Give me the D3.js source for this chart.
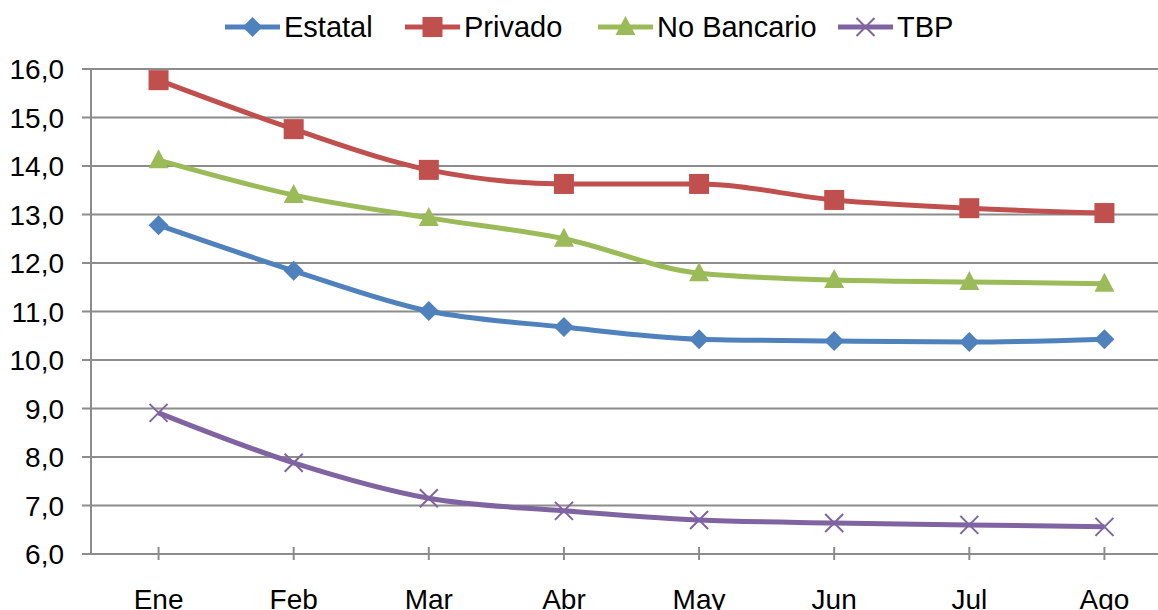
<!DOCTYPE html>
<html>
<head>
<meta charset="utf-8">
<script src="https://cdn.jsdelivr.net/npm/d3@7"></script>
<style>
  body { margin: 0; background: #fff; }
  text { font-family: "Liberation Sans", Arial, sans-serif; fill: #000; }
</style>
</head>
<body>
<svg id="canvas"></svg>
<script>
const months = ["Ene", "Feb", "Mar", "Abr", "May", "Jun", "Jul", "Ago"];
const estatal = [12.78, 11.84, 11.01, 10.68, 10.43, 10.39, 10.37, 10.43];
const privado = [15.77, 14.76, 13.92, 13.63, 13.63, 13.30, 13.13, 13.03];
const noBancario = [14.12, 13.40, 12.93, 12.50, 11.79, 11.65, 11.61, 11.57];
const tbp = [8.91, 7.88, 7.15, 6.89, 6.70, 6.64, 6.60, 6.56];
const yTicks = [6, 7, 8, 9, 10, 11, 12, 13, 14, 15, 16];

const series = [
    { name: "Estatal", values: estatal, color: "#4F81BD", marker: "diamond" },
    { name: "Privado", values: privado, color: "#C0504D", marker: "square" },
    { name: "No Bancario", values: noBancario, color: "#9BBB59", marker: "triangle" },
    { name: "TBP", values: tbp, color: "#8064A2", marker: "x" }
];

const width = 1158;
const height = 610;
const margin = { top: 69, right: 0, bottom: 56, left: 91 };
const plotRight = 1172; // plot area runs past the picture edge

const svg = d3.select("#canvas")
    .attr("width", width)
    .attr("height", height);

const x = d3.scaleBand()
    .domain(months)
    .range([margin.left, plotRight]);

const y = d3.scaleLinear()
    .domain([6, 16])
    .range([height - margin.bottom, margin.top]);

// gridlines
svg.append("g")
    .selectAll("line")
    .data(yTicks)
    .enter()
    .append("line")
    .attr("x1", margin.left - 9)
    .attr("x2", width)
    .attr("y1", d => y(d))
    .attr("y2", d => y(d))
    .attr("stroke", "#8c8c8c")
    .attr("stroke-width", 2);

// y axis line
svg.append("line")
    .attr("x1", margin.left).attr("x2", margin.left)
    .attr("y1", y(16)).attr("y2", y(6))
    .attr("stroke", "#8c8c8c")
    .attr("stroke-width", 2);

// y labels
svg.append("g")
    .selectAll("text")
    .data(yTicks)
    .enter()
    .append("text")
    .attr("x", 64)
    .attr("y", d => y(d))
    .attr("dy", "0.36em")
    .attr("text-anchor", "end")
    .style("font-size", "28px")
    .text(d => d3.format(".1f")(d).replace(".", ","));

// x ticks (cross the axis)
svg.append("g")
    .selectAll("line")
    .data(months)
    .enter()
    .append("line")
    .attr("x1", d => x(d) + x.bandwidth() / 2)
    .attr("x2", d => x(d) + x.bandwidth() / 2)
    .attr("y1", y(6) - 7)
    .attr("y2", y(6) + 6)
    .attr("stroke", "#8c8c8c")
    .attr("stroke-width", 2);

svg.append("g")
    .selectAll("text")
    .data(months)
    .enter()
    .append("text")
    .attr("x", d => x(d) + x.bandwidth() / 2)
    .attr("y", 609)
    .attr("text-anchor", "middle")
    .style("font-size", "28px")
    .text(d => d);

const line = d3.line()
    .x((d, i) => x(months[i]) + x.bandwidth() / 2)
    .y(d => y(d))
    .curve(d3.curveMonotoneX);

function drawMarker(sel, type, color) {
    if (type === "diamond") {
        sel.append("path").attr("d", "M0,-10L10,0L0,10L-10,0Z").attr("fill", color);
    } else if (type === "square") {
        sel.append("rect").attr("x", -10).attr("y", -10).attr("width", 20).attr("height", 20)
            .attr("fill", color);
    } else if (type === "triangle") {
        sel.append("path").attr("d", "M0,-11L10,8L-10,8Z").attr("fill", color);
    } else {
        sel.append("path").attr("d", "M-9,-9L9,9M-9,9L9,-9")
            .attr("stroke", color).attr("stroke-width", 2).attr("fill", "none");
    }
}

series.forEach(s => {
    svg.append("path")
        .datum(s.values)
        .attr("d", line)
        .attr("fill", "none")
        .attr("stroke", s.color)
        .attr("stroke-width", 5)
        .attr("stroke-linejoin", "round");

    svg.append("g")
        .selectAll("g")
        .data(s.values)
        .enter()
        .append("g")
        .attr("transform", (d, i) => `translate(${x(months[i]) + x.bandwidth() / 2},${y(d)})`)
        .each(function () { drawMarker(d3.select(this), s.marker, s.color); });
});

// legend
const legendX = [225, 405, 598, 838];
const legend = svg.append("g");
series.forEach((s, i) => {
    const g = legend.append("g").attr("transform", `translate(${legendX[i]},27)`);
    g.append("line")
        .attr("x1", 0).attr("x2", 55)
        .attr("stroke", s.color)
        .attr("stroke-width", 5);
    drawMarker(g.append("g").attr("transform", "translate(27.5,0)"), s.marker, s.color);
    g.append("text")
        .attr("x", 59)
        .attr("dy", "0.36em")
        .style("font-size", "29px")
        .text(s.name);
});
</script>
</body>
</html>
